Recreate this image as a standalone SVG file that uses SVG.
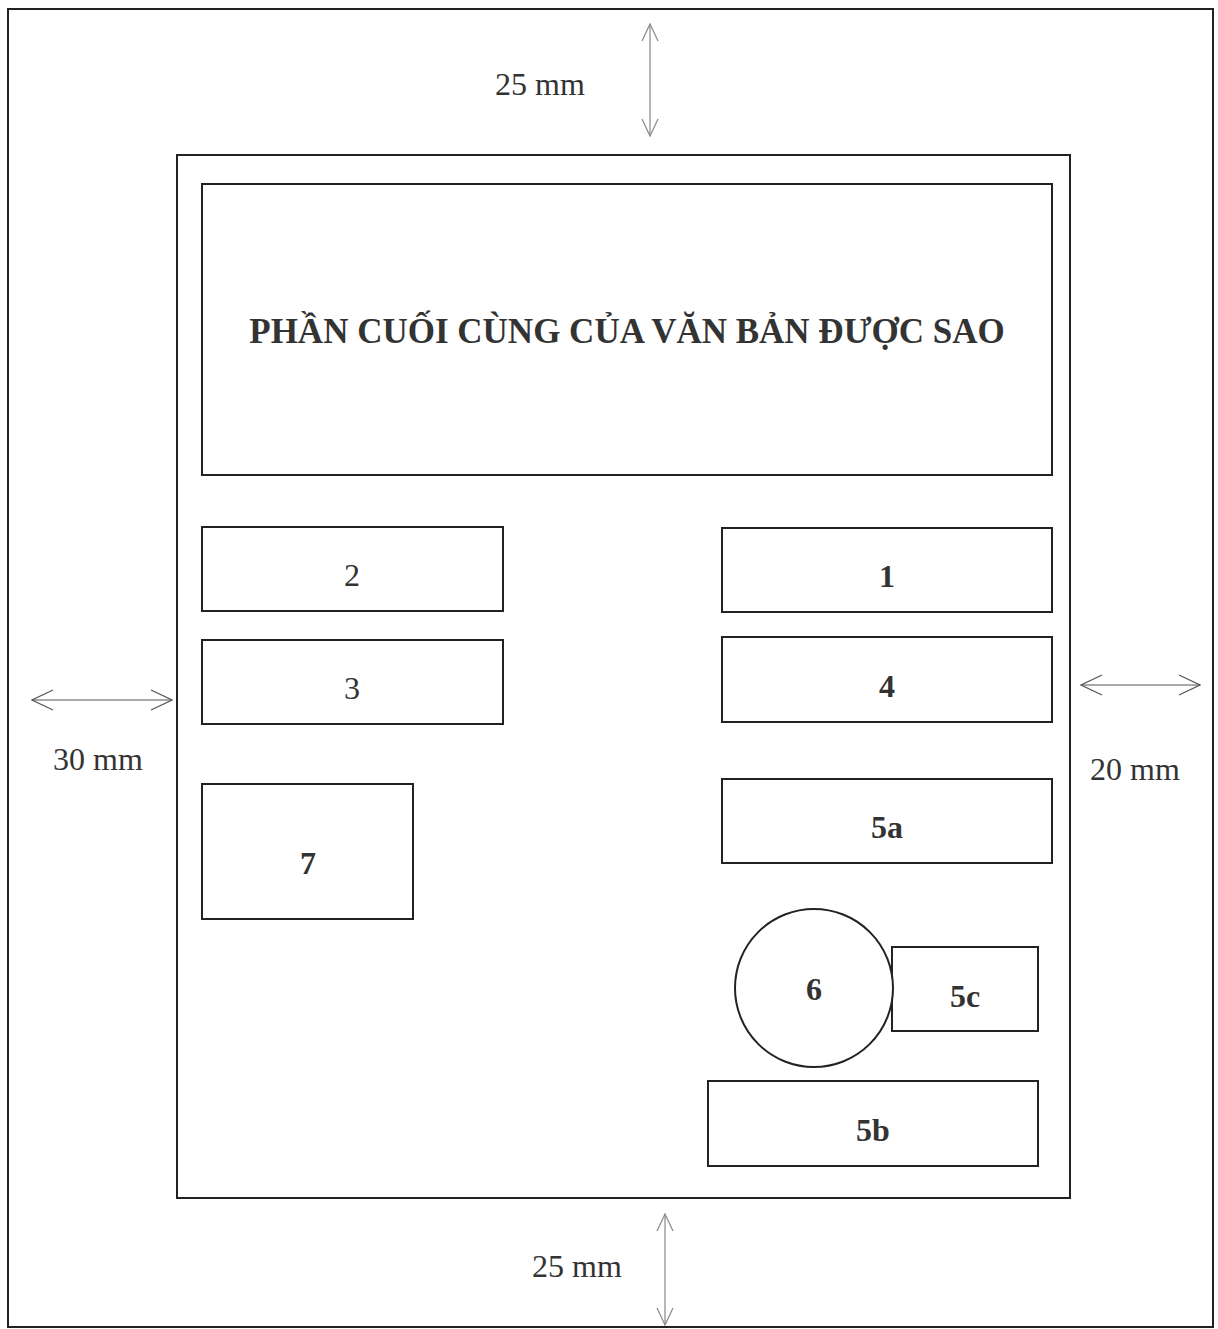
<svg xmlns="http://www.w3.org/2000/svg" width="1218" height="1329" viewBox="0 0 1218 1329">
<defs>
<style>
.frame{fill:none;stroke:#222;stroke-width:2}
.box{fill:#fff;stroke:#222;stroke-width:2}
.dim{stroke:#888;stroke-width:1.2;fill:none}
.lbl{font-family:"Liberation Serif","DejaVu Serif",serif;font-size:32px;fill:#333;text-anchor:middle}
.num{font-family:"Liberation Serif","DejaVu Serif",serif;font-size:32px;font-weight:bold;fill:#333;text-anchor:middle}
.num2{font-family:"Liberation Serif","DejaVu Serif",serif;font-size:32px;fill:#333;text-anchor:middle}
.title{font-family:"Liberation Serif","DejaVu Serif",serif;font-size:35px;font-weight:bold;fill:#333;text-anchor:middle}
</style>
<marker id="ah" viewBox="0 0 20 20" refX="19" refY="10" markerWidth="20" markerHeight="20" markerUnits="userSpaceOnUse" orient="auto-start-reverse">
<path d="M2,2 L19,10 L2,18" fill="none" stroke="#888" stroke-width="1.2"/>
</marker>
<marker id="ahd" viewBox="0 0 24 24" refX="23" refY="12" markerWidth="24" markerHeight="24" markerUnits="userSpaceOnUse" orient="auto-start-reverse">
<path d="M2,2 L23,12 L2,22" fill="none" stroke="#555" stroke-width="1.2"/>
</marker>
</defs>
<rect x="0" y="0" width="1218" height="1329" fill="#fff"/>
<rect id="page" class="frame" x="8" y="9" width="1205" height="1318"/>
<rect id="printArea" class="frame" x="177" y="155" width="893" height="1043"/>
<g id="n-title"><rect class="box" x="202" y="184" width="850" height="291"/><text class="title" x="627" y="343">PHẦN CUỐI CÙNG CỦA VĂN BẢN ĐƯỢC SAO</text></g>
<g id="n-2"><rect class="box" x="202" y="527" width="301" height="84"/><text class="num2" x="352" y="586">2</text></g>
<g id="n-1"><rect class="box" x="722" y="528" width="330" height="84"/><text class="num" x="887" y="587">1</text></g>
<g id="n-3"><rect class="box" x="202" y="640" width="301" height="84"/><text class="num2" x="352" y="699">3</text></g>
<g id="n-4"><rect class="box" x="722" y="637" width="330" height="85"/><text class="num" x="887" y="697">4</text></g>
<g id="n-7"><rect class="box" x="202" y="784" width="211" height="135"/><text class="num" x="308" y="874">7</text></g>
<g id="n-5a"><rect class="box" x="722" y="779" width="330" height="84"/><text class="num" x="887" y="838">5a</text></g>
<g id="n-5c"><rect class="box" x="892" y="947" width="146" height="84"/><text class="num" x="965" y="1007">5c</text></g>
<g id="n-6"><circle class="box" cx="814" cy="988" r="79"/><text class="num" x="814" y="1000">6</text></g>
<g id="n-5b"><rect class="box" x="708" y="1081" width="330" height="85"/><text class="num" x="873" y="1141">5b</text></g>
<g id="connectors">
<line class="dim" x1="650" y1="24" x2="650" y2="136" marker-start="url(#ah)" marker-end="url(#ah)"/>
<line class="dim" x1="665" y1="1214" x2="665" y2="1325" marker-start="url(#ah)" marker-end="url(#ah)"/>
<line class="dim" x1="32" y1="700" x2="172" y2="700" marker-start="url(#ahd)" marker-end="url(#ahd)" style="stroke:#555"/>
<line class="dim" x1="1081" y1="685" x2="1200" y2="685" marker-start="url(#ahd)" marker-end="url(#ahd)" style="stroke:#555"/>
</g>
<text class="lbl" x="540" y="95">25 mm</text>
<text class="lbl" x="98" y="770">30 mm</text>
<text class="lbl" x="1135" y="780">20 mm</text>
<text class="lbl" x="577" y="1277">25 mm</text>
</svg>
